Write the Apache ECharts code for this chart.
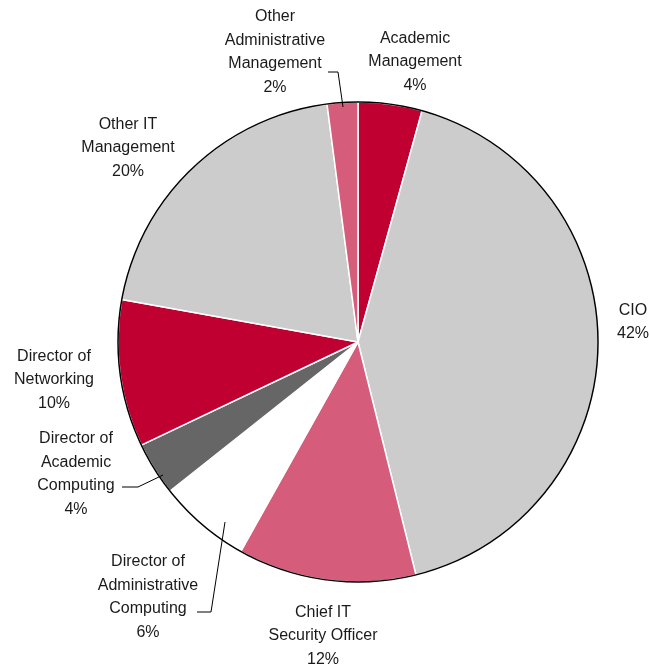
<!DOCTYPE html>
<html>
<head>
<meta charset="utf-8">
<script src="https://cdn.jsdelivr.net/npm/echarts@6/dist/echarts.min.js"></script>
<style>
  html, body { margin: 0; padding: 0; background: #fff; }
  #chart { width: 649px; height: 671px; }
</style>
</head>
<body>
<div id="chart"></div>
<script>
// slices, clockwise from 12 o'clock
let categories = ['Academic\nManagement', 'CIO', 'Chief IT\nSecurity Officer', 'Director of\nAdministrative\nComputing',
  'Director of\nAcademic\nComputing', 'Director of\nNetworking', 'Other IT\nManagement', 'Other\nAdministrative\nManagement'];
let shares = [4.3, 41.8, 12.0, 6.2, 3.6, 9.9, 20.1, 2.06];
let colors = ['#C00030', '#CCCCCC', '#D65C7B', '#FFFFFF', '#666666', '#C00030', '#CCCCCC', '#D65C7B'];
let withLine = [false, false, false, true, true, false, false, true];

let cx = 358, cy = 342, R = 240;

// label centres (x, y) and leader paths
let labelPos = [[415, 62], [633, 322], [323, 636], [148, 597], [76, 474], [54, 380], [128, 148], [275, 52]];
let linePts = {
  3: [[225, 522], [211, 612], [197, 612]],
  4: [[163, 475], [138, 487], [122, 487]],
  7: [[343, 107], [338, 72], [328, 72]]
};

let chart = echarts.init(document.getElementById('chart'));

let fillData = [];
let labelData = [];
for (let i = 0; i < categories.length; i++) {
  fillData.push({
    name: categories[i],
    value: shares[i],
    itemStyle: { color: colors[i] }
  });
  labelData.push({
    name: categories[i],
    value: shares[i],
    labelLine: { show: withLine[i] }
  });
}

let option = {
  animation: false,
  series: [
    {
      // coloured slices
      type: 'pie',
      z: 1,
      center: [cx, cy],
      radius: R,
      startAngle: 90,
      clockwise: true,
      silent: true,
      data: fillData,
      itemStyle: { borderColor: '#fff', borderWidth: 1.5 },
      label: { show: false },
      labelLine: { show: false },
      emphasis: { disabled: true }
    },
    {
      // labels + leaders drawn over the slices
      type: 'pie',
      z: 3,
      center: [cx, cy],
      radius: R,
      startAngle: 90,
      clockwise: true,
      silent: true,
      percentPrecision: 0,
      data: labelData,
      itemStyle: { color: 'transparent', borderWidth: 0 },
      label: {
        show: true,
        position: 'outside',
        formatter: '{b}\n{d}%',
        fontFamily: 'Liberation Sans, Arial, sans-serif',
        fontSize: 16,
        lineHeight: 23.5,
        color: '#1a1a1a',
        overflow: 'none'
      },
      labelLine: {
        show: false,
        length: 10,
        length2: 10,
        lineStyle: { color: '#000', width: 1 }
      },
      labelLayout: function (params) {
        let i = params.dataIndex;
        let out = {
          x: labelPos[i][0],
          y: labelPos[i][1],
          align: 'center',
          verticalAlign: 'middle'
        };
        if (linePts[i]) {
          out.labelLinePoints = linePts[i];
        }
        return out;
      },
      emphasis: { disabled: true }
    },
    {
      // outer rim
      type: 'pie',
      z: 2,
      center: [cx, cy],
      radius: R,
      silent: true,
      data: [{ value: 1, itemStyle: { color: 'transparent', borderColor: '#000', borderWidth: 1.5 } }],
      label: { show: false },
      labelLine: { show: false },
      emphasis: { disabled: true }
    }
  ]
};

chart.setOption(option);
</script>
</body>
</html>
